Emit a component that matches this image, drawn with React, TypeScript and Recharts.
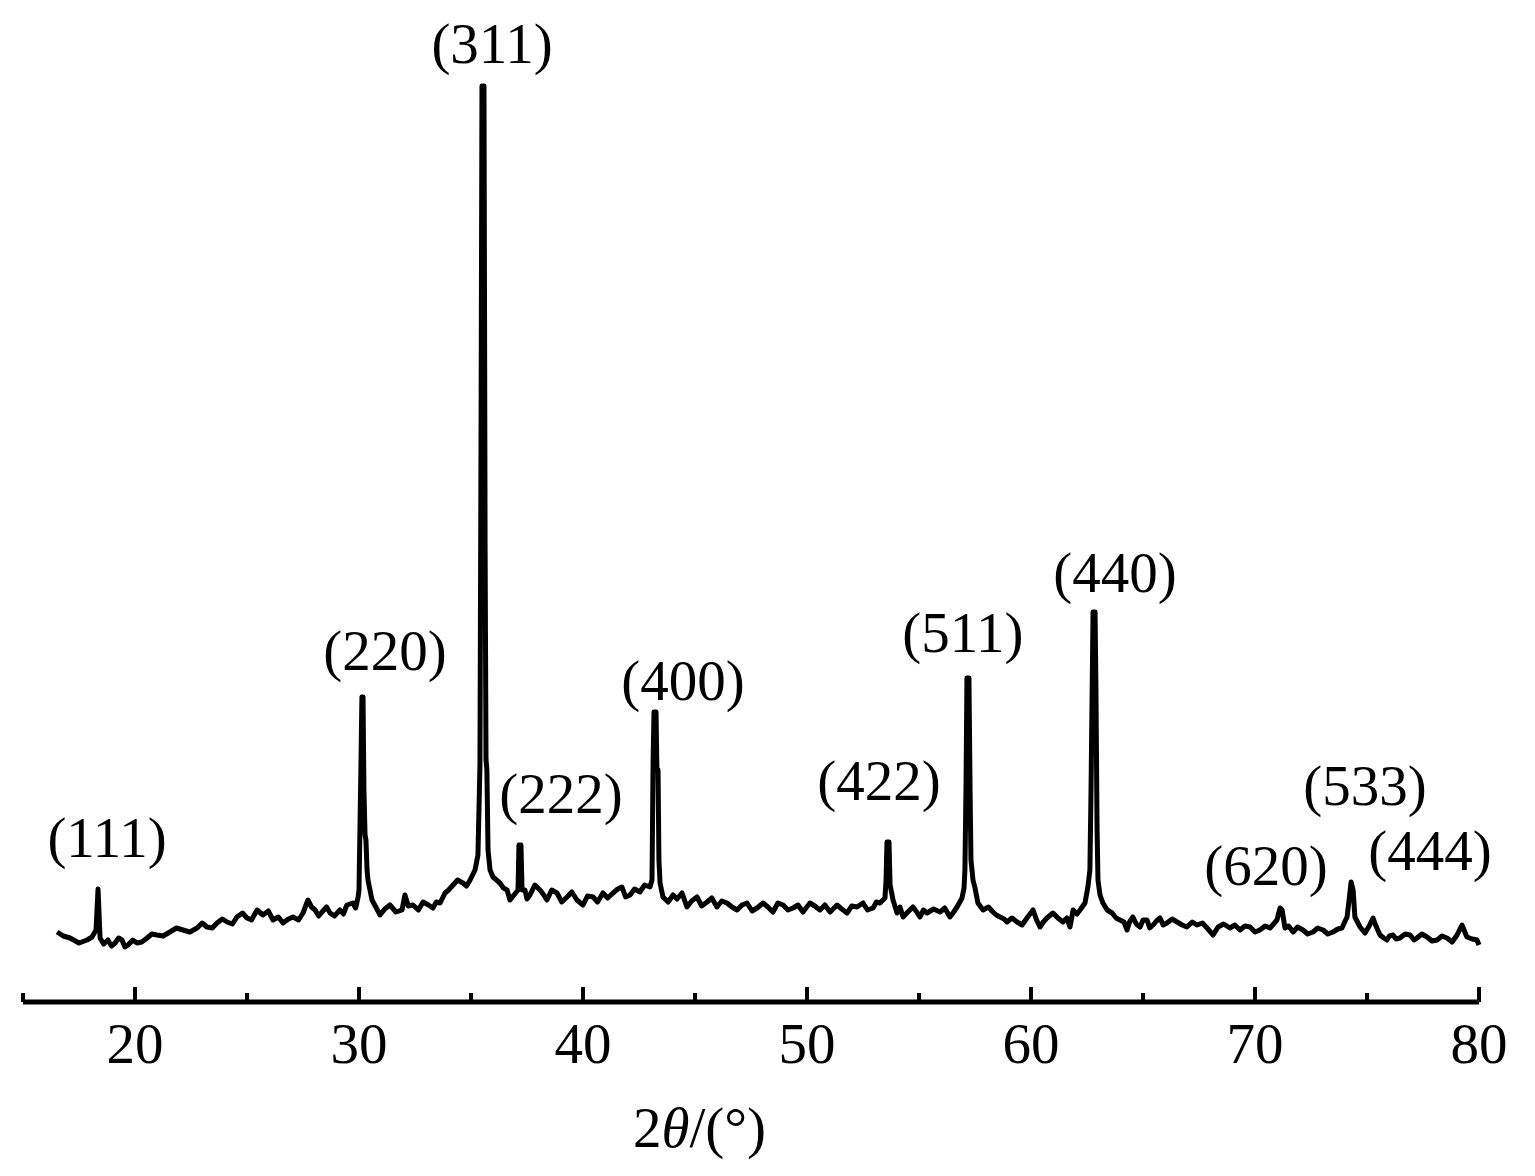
import React from "react";
import { ComposedChart, Line, Scatter, XAxis, YAxis } from "recharts";

// Diffraction pattern: [2θ (°), intensity (a.u.)]
const pattern15to30: [number, number][] = [
  [16.52, 70], [16.8, 66], [17.1, 64], [17.5, 59], [17.86, 62], [18.08, 65], [18.26, 72], [18.35, 113],
  [18.44, 64], [18.6, 58], [18.79, 62], [18.95, 56], [19.11, 59], [19.27, 64], [19.42, 62], [19.55, 55],
  [19.69, 57], [19.9, 62], [20.09, 59], [20.3, 60], [20.54, 64], [20.75, 68], [20.98, 67], [21.25, 66],
  [21.56, 70], [21.85, 74], [22.14, 72], [22.45, 70], [22.77, 74], [23.0, 79], [23.21, 75], [23.45, 74],
  [23.66, 79], [23.9, 83], [24.11, 80], [24.35, 78], [24.55, 85], [24.8, 89], [25.0, 84], [25.2, 82],
  [25.45, 92], [25.71, 87], [25.95, 91], [26.16, 82], [26.4, 85], [26.61, 79], [26.85, 83], [27.05, 85],
  [27.3, 82], [27.5, 89], [27.72, 102], [27.88, 95], [28.04, 92], [28.2, 86], [28.35, 90], [28.55, 95],
  [28.71, 89], [28.9, 86], [29.15, 92], [29.3, 88], [29.46, 97], [29.73, 99], [29.85, 94], [29.96, 105],
];

const pattern30to45: [number, number][] = [
  [30.0, 112], [30.09, 242], [30.13, 305], [30.18, 305], [30.22, 212], [30.27, 167], [30.31, 162], [30.36, 132],
  [30.4, 122], [30.58, 102], [30.75, 95], [30.94, 87], [31.15, 93], [31.38, 97], [31.65, 90], [31.92, 92],
  [32.05, 107], [32.2, 96], [32.41, 97], [32.65, 92], [32.86, 100], [33.1, 97], [33.3, 94], [33.45, 100],
  [33.62, 99], [33.84, 109], [34.0, 112], [34.2, 117], [34.4, 122], [34.64, 119], [34.8, 116], [34.96, 122],
  [35.18, 132], [35.31, 147], [35.4, 237], [35.45, 582], [35.49, 916], [35.58, 916], [35.63, 452], [35.67, 242],
  [35.71, 232], [35.76, 152], [35.85, 132], [35.98, 125], [36.29, 119], [36.45, 114], [36.61, 112], [36.74, 102],
  [36.92, 107], [37.1, 112], [37.14, 157], [37.23, 157], [37.28, 112], [37.41, 112], [37.5, 103], [37.63, 107],
  [37.85, 117], [38.08, 112], [38.25, 107], [38.39, 102], [38.6, 112], [38.84, 109], [39.05, 100], [39.29, 105],
  [39.5, 110], [39.73, 102], [40.0, 97], [40.2, 106], [40.45, 105], [40.65, 100], [40.89, 109], [41.1, 104],
  [41.34, 109], [41.55, 113], [41.74, 115], [41.9, 105], [42.1, 107], [42.3, 113], [42.54, 110], [42.75, 117],
  [42.99, 115], [43.08, 122], [43.13, 242], [43.17, 290], [43.26, 290], [43.3, 232], [43.35, 232], [43.39, 142],
  [43.44, 119], [43.57, 105], [43.8, 100], [44.02, 107], [44.2, 103], [44.42, 109], [44.64, 95], [44.85, 101],
];

const pattern45to60: [number, number][] = [
  [45.09, 105], [45.3, 96], [45.54, 100], [45.75, 104], [45.98, 95], [46.2, 101], [46.43, 99], [46.65, 95],
  [46.88, 92], [47.1, 97], [47.32, 99], [47.55, 91], [47.77, 94], [48.04, 99], [48.25, 95], [48.48, 90],
  [48.7, 99], [48.93, 97], [49.15, 92], [49.38, 94], [49.6, 97], [49.82, 90], [50.13, 99], [50.35, 96],
  [50.58, 92], [50.8, 97], [51.03, 90], [51.34, 97], [51.55, 93], [51.79, 89], [52.0, 96], [52.23, 95],
  [52.5, 99], [52.7, 92], [52.95, 94], [53.1, 100], [53.26, 99], [53.48, 104], [53.53, 122], [53.57, 160],
  [53.66, 160], [53.71, 117], [53.84, 102], [54.02, 89], [54.15, 95], [54.29, 85], [54.5, 90], [54.73, 95],
  [54.9, 90], [55.04, 85], [55.2, 92], [55.36, 89], [55.65, 93], [55.94, 90], [56.15, 94], [56.38, 85],
  [56.55, 90], [56.7, 95], [56.92, 104], [57.01, 114], [57.05, 132], [57.1, 217], [57.14, 324], [57.23, 324],
  [57.28, 212], [57.32, 142], [57.41, 122], [57.5, 114], [57.63, 99], [57.86, 92], [58.1, 95], [58.3, 90],
  [58.45, 87], [58.62, 85], [58.8, 83], [58.93, 80], [59.15, 84], [59.38, 80], [59.6, 77], [59.82, 84],
];

const pattern60to80: [number, number][] = [
  [60.09, 92], [60.25, 82], [60.4, 75], [60.55, 80], [60.71, 84], [60.98, 89], [61.2, 84], [61.43, 80],
  [61.6, 84], [61.74, 75], [61.88, 92], [62.05, 88], [62.19, 92], [62.41, 99], [62.54, 115], [62.63, 132],
  [62.68, 212], [62.77, 390], [62.86, 390], [62.9, 312], [62.95, 172], [62.99, 122], [63.08, 107], [63.21, 99],
  [63.4, 92], [63.62, 89], [63.8, 84], [63.97, 82], [64.15, 80], [64.29, 72], [64.4, 80], [64.55, 85],
  [64.7, 78], [64.87, 75], [65.0, 82], [65.18, 82], [65.3, 74], [65.45, 77], [65.6, 81], [65.76, 84],
  [65.9, 77], [66.07, 79], [66.3, 83], [66.52, 80], [66.75, 77], [66.96, 75], [67.2, 80], [67.41, 77],
  [67.65, 79], [67.86, 74], [68.13, 67], [68.35, 75], [68.6, 78], [68.88, 74], [69.1, 77], [69.33, 72],
  [69.55, 76], [69.78, 75], [70.0, 70], [70.22, 72], [70.45, 76], [70.67, 74], [70.98, 82], [71.12, 94],
  [71.21, 92], [71.34, 74], [71.5, 76], [71.7, 70], [71.9, 75], [72.14, 72], [72.35, 68], [72.59, 70],
  [72.8, 74], [73.04, 72], [73.25, 68], [73.48, 70], [73.7, 73], [73.88, 74], [74.11, 85], [74.2, 102],
  [74.29, 120], [74.38, 112], [74.46, 85], [74.69, 75], [74.91, 69], [75.1, 76], [75.27, 84], [75.4, 76],
  [75.58, 67], [75.75, 64], [75.89, 62], [76.0, 66], [76.16, 67], [76.3, 63], [76.47, 64], [76.7, 68],
  [76.92, 67], [77.1, 62], [77.23, 64], [77.45, 68], [77.68, 65], [77.9, 61], [78.13, 62], [78.35, 66],
  [78.57, 64], [78.8, 60], [79.02, 67], [79.24, 77], [79.46, 65], [79.7, 63], [79.91, 62], [80.0, 57],
];

// Miller-index labels and where their text sits (2θ, intensity of text baseline)
const peakHkl = ["(111)", "(220)", "(311)", "(222)", "(400)", "(422)", "(511)", "(440)", "(620)", "(533)", "(444)"];
const peakLabelTheta = [18.75, 31.16, 35.94, 39.02, 44.46, 53.21, 56.96, 63.75, 70.49, 74.91, 77.81];
const peakLabelIntensity = [145, 332, 939, 189, 302, 202, 350, 410, 117, 197, 132];

const xTicks = [15, 20, 25, 30, 35, 40, 45, 50, 55, 60, 65, 70, 75, 80];
const xDomain: [number, number] = [15, 80];
const yDomain: [number, number] = [0, 990];
const xTitleAt = 45.2;

const FONT = "'Liberation Serif', 'Times New Roman', Times, serif";

const spectrum = [...pattern15to30, ...pattern30to45, ...pattern45to60, ...pattern60to80].map(([x, y]) => ({ x, y }));
const labels = peakHkl.map((t, i) => ({ x: peakLabelTheta[i], y: peakLabelIntensity[i], t }));

const AxisTick = (props: any) => {
  const { x, y, payload } = props;
  const v = payload.value as number;
  const major = v % 10 === 0;
  const len = major ? 15 : 9;
  return (
    <g>
      <line x1={x} x2={x} y1={y} y2={y - len} stroke="#000" strokeWidth={4} />
      {major && (
        <text x={x} y={y + 61} textAnchor="middle" fontSize={57} fontFamily={FONT} fill="#000">
          {v}
        </text>
      )}
    </g>
  );
};

const PeakLabel = (props: any) => {
  const { cx, cy, payload } = props;
  return (
    <text x={cx} y={cy} textAnchor="middle" fontSize={57} fontFamily={FONT} fill="#000">
      {payload.t}
    </text>
  );
};

const AxisTitle = (props: any) => {
  const vb = props.viewBox || {};
  const x = vb.x + (vb.width * (xTitleAt - xDomain[0])) / (xDomain[1] - xDomain[0]);
  const y = vb.y + 145;
  return (
    <text x={x} y={y} textAnchor="middle" fontSize={57} fontFamily={FONT} fill="#000">
      2<tspan fontStyle="italic">θ</tspan>/(°)
    </text>
  );
};

export default function App() {
  return (
    <div style={{ width: 1519, height: 1160, background: "#fff" }}>
      <ComposedChart width={1519} height={1160} margin={{ top: 4, right: 48, left: 15, bottom: 0 }}>
        <XAxis
          type="number"
          dataKey="x"
          domain={xDomain}
          ticks={xTicks}
          interval={0}
          height={166}
          tickSize={0}
          tickMargin={0}
          tickLine={false}
          axisLine={{ stroke: "#000", strokeWidth: 5 }}
          tick={<AxisTick />}
          label={{ content: <AxisTitle /> }}
        />
        <YAxis type="number" dataKey="y" domain={yDomain} hide />
        <Line
          data={spectrum}
          dataKey="y"
          type="linear"
          stroke="#000"
          strokeWidth={5}
          dot={false}
          isAnimationActive={false}
          strokeLinejoin="round"
        />
        <Scatter data={labels} dataKey="y" shape={<PeakLabel />} isAnimationActive={false} />
      </ComposedChart>
    </div>
  );
}
